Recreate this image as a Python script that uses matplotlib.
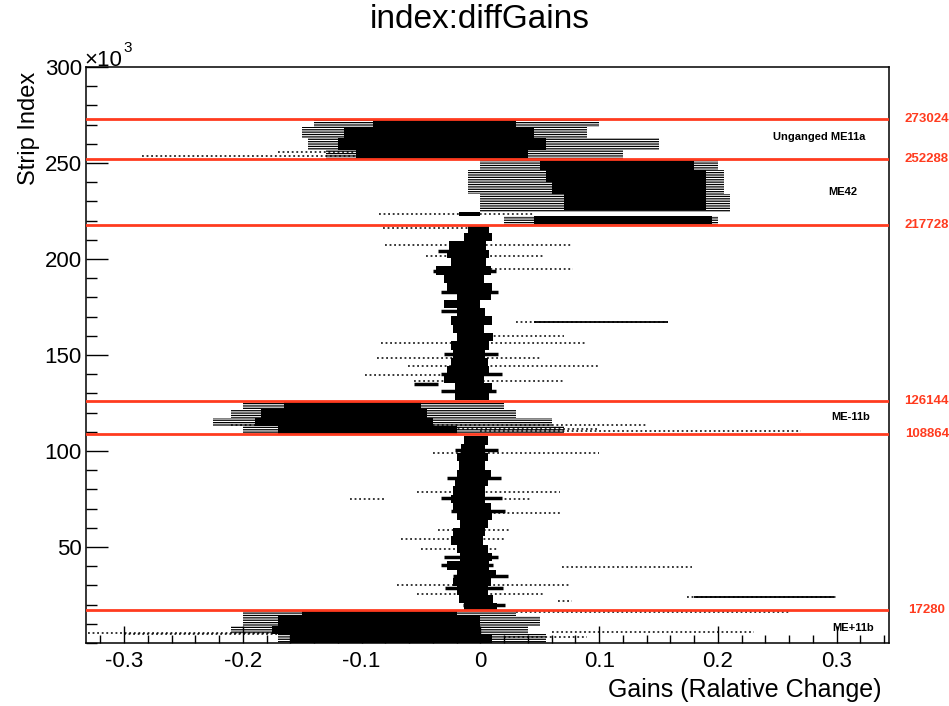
import matplotlib
matplotlib.use("Agg")
import matplotlib.pyplot as plt
from matplotlib.ticker import MultipleLocator
import matplotlib.transforms as mtransforms

plt.rcParams['font.family'] = ['Liberation Sans', 'DejaVu Sans']
plt.rcParams['hatch.linewidth'] = 0.9

# chamber boundaries (strip index) and chamber names
boundaries = [273024, 252288, 217728, 126144, 108864, 17280]
names = ['Unganged ME11a', 'ME42', 'ME-11b', 'ME+11b']
name_x = [0.285, 0.305, 0.312, 0.314]
name_y = [263.5, 234.8, 117.6, 7.7]   # x10^3

# dense (black) blocks: strip from/to (x10^3), gain from/to
core_y0 = [268.5, 263, 257, 252.3, 246.5, 240, 234, 225.5, 218, 222.3, 122, 117, 113, 109, 14, 9, 4.5, 0]
core_y1 = [273.0, 268.5, 263, 257, 252.3, 246.5, 240, 234, 222.5, 224.3, 126.1, 122, 117, 113, 17.3, 14, 9, 4.5]
core_x0 = [-0.09, -0.115, -0.12, -0.105, 0.05, 0.055, 0.06, 0.07, 0.045, -0.018, -0.165, -0.185, -0.19, -0.17, -0.15, -0.17, -0.175, -0.16]
core_x1 = [0.03, 0.045, 0.055, 0.04, 0.18, 0.19, 0.19, 0.19, 0.195, 0.0, -0.05, -0.045, -0.04, -0.02, -0.02, 0.0, 0.0, 0.01]

# sparse fringe around the dense blocks
fringe_y0 = [268.5, 263, 257, 252.3, 246.5, 234, 224.5, 217.8, 122, 117, 113, 109, 14, 9, 4.5, 0]
fringe_y1 = [273.0, 268.5, 263, 257, 252.3, 246.5, 234, 222.3, 126.1, 122, 117, 113, 17.3, 14, 9, 4.5]
fringe_x0 = [-0.14, -0.15, -0.145, -0.13, 0.0, -0.01, 0.0, 0.02, -0.20, -0.21, -0.225, -0.20, -0.20, -0.20, -0.21, -0.17]
fringe_x1 = [0.10, 0.09, 0.15, 0.12, 0.20, 0.205, 0.21, 0.20, 0.02, 0.03, 0.06, 0.07, 0.03, 0.05, 0.04, 0.055]

# narrow column around zero between the chambers (centre x10^3, gain left/right)
col_y = [215.7, 211.4, 207.0, 202.7, 198.4, 194.0, 189.7, 185.4, 181.0, 176.7, 172.3,
         168.0, 163.6, 159.3, 155.0, 150.6, 146.3, 142.0, 137.6, 133.3, 129.0,
         105.5, 101.2, 96.8, 92.5, 88.1, 83.8, 79.5, 75.1, 70.8, 66.5, 62.1,
         57.8, 53.4, 49.1, 44.7, 40.4, 36.0, 31.7, 27.4, 23.0, 18.7]
col_left = [-0.010, -0.014, -0.026, -0.028, -0.025, -0.037, -0.031, -0.028, -0.020, -0.031, -0.020,
            -0.025, -0.023, -0.020, -0.025, -0.023, -0.025, -0.028, -0.031, -0.021, -0.021,
            -0.014, -0.016, -0.020, -0.018, -0.020, -0.021, -0.023, -0.025, -0.023, -0.020, -0.017,
            -0.023, -0.025, -0.020, -0.017, -0.028, -0.020, -0.023, -0.020, -0.018, -0.014]
col_right = [0.007, 0.010, 0.005, 0.007, 0.005, 0.009, 0.003, 0.010, 0.009, 0.000, 0.004,
             0.010, 0.003, 0.011, 0.007, 0.004, 0.006, 0.007, 0.003, 0.010, 0.007,
             0.006, 0.004, 0.006, 0.004, 0.009, 0.006, 0.004, 0.004, 0.009, 0.010, 0.006,
             0.004, 0.002, 0.006, 0.010, 0.007, 0.013, 0.009, 0.006, 0.011, 0.014]

# short solid strokes sticking out of the column
jag_y = [204.0, 193.5, 183.0, 173.0, 150.5, 140.0, 135.0, 131.5, 100.5, 86.0, 75.5, 69.0, 45.0, 40.5, 35.0, 28.5, 20.0]
jag_x0 = [-0.036, -0.040, -0.033, -0.033, -0.031, -0.033, -0.056, -0.033, -0.021, -0.028, -0.033, -0.025, -0.031, -0.033, -0.023, -0.030, -0.015]
jag_x1 = [-0.020, 0.013, 0.015, -0.010, 0.015, 0.018, -0.036, 0.013, 0.015, 0.017, 0.018, 0.021, 0.015, 0.011, 0.023, 0.019, 0.021]

# dotted outlier streaks
streak_y = [253.5, 255.5, 223.3, 216.0, 207.2, 201.5, 194.6, 167.3, 159.8, 156.4, 148.5, 144.4, 139.7, 136.4,
            113.3, 111.5, 110.5, 98.7, 78.8, 75.0, 75.0, 67.5, 58.8, 54.0, 49.0, 39.7, 30.0, 25.3, 24.0, 22.0,
            16.3, 5.3, 4.5, 5.5, 3.0]
streak_x0 = [-0.285, -0.17, -0.085, -0.082, -0.08, -0.046, -0.034, 0.03, 0.0, -0.084, -0.087, -0.061, -0.097, -0.056,
             -0.21, -0.05, 0.0, -0.04, -0.053, -0.11, -0.03, 0.0, -0.036, -0.067, -0.05, 0.069, -0.07, -0.053, 0.174, 0.065,
             0.03, -0.33, -0.30, 0.06, 0.02]
streak_x1 = [-0.10, -0.10, 0.045, -0.006, 0.076, 0.053, 0.078, 0.158, 0.07, 0.09, 0.05, 0.10, 0.008, 0.07,
             0.14, 0.10, 0.27, 0.10, 0.067, -0.08, 0.043, 0.067, 0.025, 0.02, 0.014, 0.178, 0.076, 0.053, 0.30, 0.077,
             0.26, -0.16, -0.17, 0.23, 0.09]
# streaks that are nearly continuous
solid_y = [167.3, 24.0]
solid_x0 = [0.045, 0.18]
solid_x1 = [0.158, 0.298]

red = '#ff3b1f'

fig = plt.figure(figsize=(9.49, 7.06), dpi=100)
ax = fig.add_axes([86 / 949, 63 / 706, 803 / 949, 576 / 706])

for y0, y1, x0, x1 in zip(fringe_y0, fringe_y1, fringe_x0, fringe_x1):
    ax.barh((y0 + y1) / 2, x1 - x0, left=x0, height=y1 - y0, facecolor='none',
            edgecolor='black', hatch='-------', linewidth=0)
for y0, y1, x0, x1 in zip(core_y0, core_y1, core_x0, core_x1):
    ax.barh((y0 + y1) / 2, x1 - x0, left=x0, height=y1 - y0, color='black', linewidth=0)
for y, l, r in zip(col_y, col_left, col_right):
    ax.barh(y, r - l, left=l, height=4.4, color='black', linewidth=0)

ax.hlines(jag_y, jag_x0, jag_x1, colors='black', linewidth=2.5)
ax.hlines(streak_y, streak_x0, streak_x1, colors='black', linewidth=1.1, linestyles=(0, (1.2, 1.8)))
ax.hlines(solid_y, solid_x0, solid_x1, colors='black', linewidth=1.3)

trans = mtransforms.blended_transform_factory(ax.transAxes, ax.transData)
for b in boundaries:
    ax.axhline(b / 1000, color=red, linewidth=2.0, zorder=5)
    ax.text(1.047, b / 1000, str(b), transform=trans, color=red, fontsize=9.5,
            fontweight='bold', ha='center', va='center', clip_on=False)

for n, x, y in zip(names, name_x, name_y):
    ax.text(x, y, n, fontsize=8, fontweight='bold', ha='center', va='center')

ax.set_xlim(-0.332, 0.344)
ax.set_ylim(0, 300)
ax.xaxis.set_major_locator(MultipleLocator(0.1))
ax.xaxis.set_minor_locator(MultipleLocator(0.02))
ax.set_yticks([50, 100, 150, 200, 250, 300])
ax.yaxis.set_minor_locator(MultipleLocator(10))
ax.set_xticklabels(['%g' % v for v in ax.get_xticks()])
ax.tick_params(which='both', direction='in', top=False, right=False, labelsize=16, width=1.0)
ax.tick_params(axis='x', which='major', length=12, pad=6)
ax.tick_params(axis='x', which='minor', length=6)
ax.tick_params(axis='y', which='major', length=16, pad=3)
ax.tick_params(axis='y', which='minor', length=8)
for s in ax.spines.values():
    s.set_linewidth(1.1)

fig.text(480 / 949, 1 - 20 / 706, 'index:diffGains', fontsize=24, ha='center', va='center')
fig.text(29 / 949, 1 - 72 / 706, 'Strip Index', fontsize=17, rotation=90, ha='center', va='top')
fig.text(882 / 949, 1 - 690 / 706, 'Gains (Ralative Change)', fontsize=18, ha='right', va='center')
fig.text(84 / 949, 1 - 60 / 706, '×10', fontsize=16, ha='left', va='center')
fig.text(123 / 949, 1 - 48 / 706, '3', fontsize=11, ha='left', va='center')

fig.savefig('out.png', dpi=100)
